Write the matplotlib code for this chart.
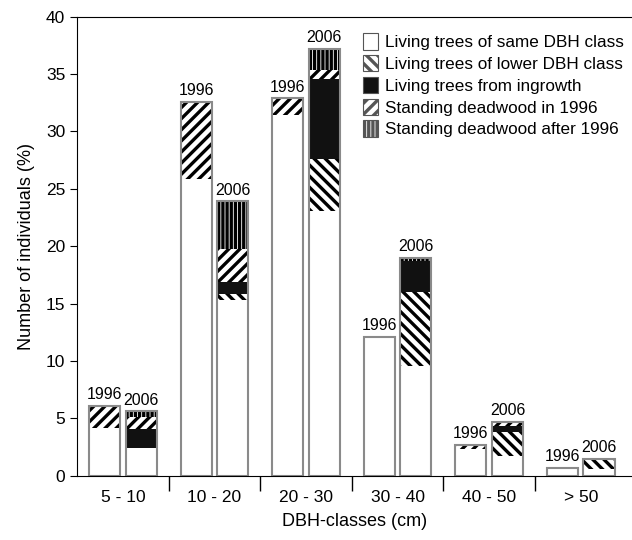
import numpy as np
import matplotlib.pyplot as plt
from matplotlib.patches import Patch

plt.rcParams['font.family'] = ['Liberation Sans', 'DejaVu Sans']
plt.rcParams['hatch.linewidth'] = 2.4

# classes de DAP
classes = ['5 - 10', '10 - 20', '20 - 30', '30 - 40', '40 - 50', '> 50']

# 1996: vivas da mesma classe + mortas em pé em 1996
same_1996 = [4.2, 25.9, 31.4, 12.1, 2.3, 0.7]
dead96_1996 = [1.9, 6.7, 1.5, 0.0, 0.4, 0.0]

# 2006: componentes empilhados
same_2006 = [2.4, 15.3, 23.1, 9.6, 1.75, 0.6]
lower_2006 = [0.0, 0.5, 4.5, 6.4, 2.05, 0.9]
ingrowth_2006 = [1.7, 1.1, 7.0, 2.7, 0.5, 0.0]
dead96_2006 = [1.0, 2.9, 0.8, 0.0, 0.4, 0.0]
deadafter_2006 = [0.5, 4.1, 1.8, 0.3, 0.0, 0.0]

labels = ['Living trees of same DBH class', 'Living trees of lower DBH class',
          'Living trees from ingrowth', 'Standing deadwood in 1996',
          'Standing deadwood after 1996']
styles = [('white', ''), ('white', '\\\\\\'), ('#111111', ''),
          ('white', '///'), ('white', '||||')]

fig = plt.figure(figsize=(6.32, 5.4), dpi=100)
ax = fig.add_axes([0.122, 0.119, 0.878, 0.850])

x = np.arange(len(classes))
w = 0.34
off = 0.2
edge = '#8a8a8a'


def stack(xpos, series, kinds):
    bottom = np.zeros(len(classes))
    for vals, k in zip(series, kinds):
        vals = np.array(vals)
        fc, h = styles[k]
        ax.bar(xpos, vals, w, bottom=bottom, color=fc, hatch=h,
               edgecolor='black', linewidth=0)
        bottom = bottom + vals
    ax.bar(xpos, bottom, w, fill=False, edgecolor=edge, linewidth=1.5)
    return bottom


tot96 = stack(x - off, [same_1996, dead96_1996], [0, 3])
tot06 = stack(x + off, [same_2006, lower_2006, ingrowth_2006, dead96_2006,
                        deadafter_2006], [0, 1, 2, 3, 4])

for i in range(len(classes)):
    ax.text(x[i] - off, tot96[i] + 0.3, '1996', ha='center', va='bottom',
            fontsize=11.5)
    ax.text(x[i] + off, tot06[i] + 0.3, '2006', ha='center', va='bottom',
            fontsize=11.5)

# eixos
ax.set_xlim(-0.5, 5.56)
ax.set_ylim(0, 40)
ax.set_yticks(np.arange(0, 41, 5))
ax.set_xticks(x)
ax.set_xticklabels(classes)
ax.set_xticks(np.arange(0.5, 5, 1), minor=True)
ax.tick_params(axis='x', which='major', length=0, labelsize=12.5, pad=10)
ax.tick_params(axis='x', which='minor', length=11, width=1, direction='out')
ax.tick_params(axis='y', length=5, labelsize=12.5)
ax.spines['right'].set_visible(False)
ax.set_xlabel('DBH-classes (cm)', fontsize=13, labelpad=6)
ax.set_ylabel('Number of individuals (%)', fontsize=13, labelpad=8)

handles = [Patch(facecolor=fc, hatch=h, edgecolor='#555555', linewidth=0.8)
           for fc, h in styles]
ax.legend(handles, labels, loc='upper left', bbox_to_anchor=(0.494, 0.99),
          frameon=False, fontsize=12.3, handlelength=0.85, handleheight=1.1,
          handletextpad=0.45, labelspacing=0.28, borderaxespad=0.3)

fig.savefig('out.png', dpi=100)
